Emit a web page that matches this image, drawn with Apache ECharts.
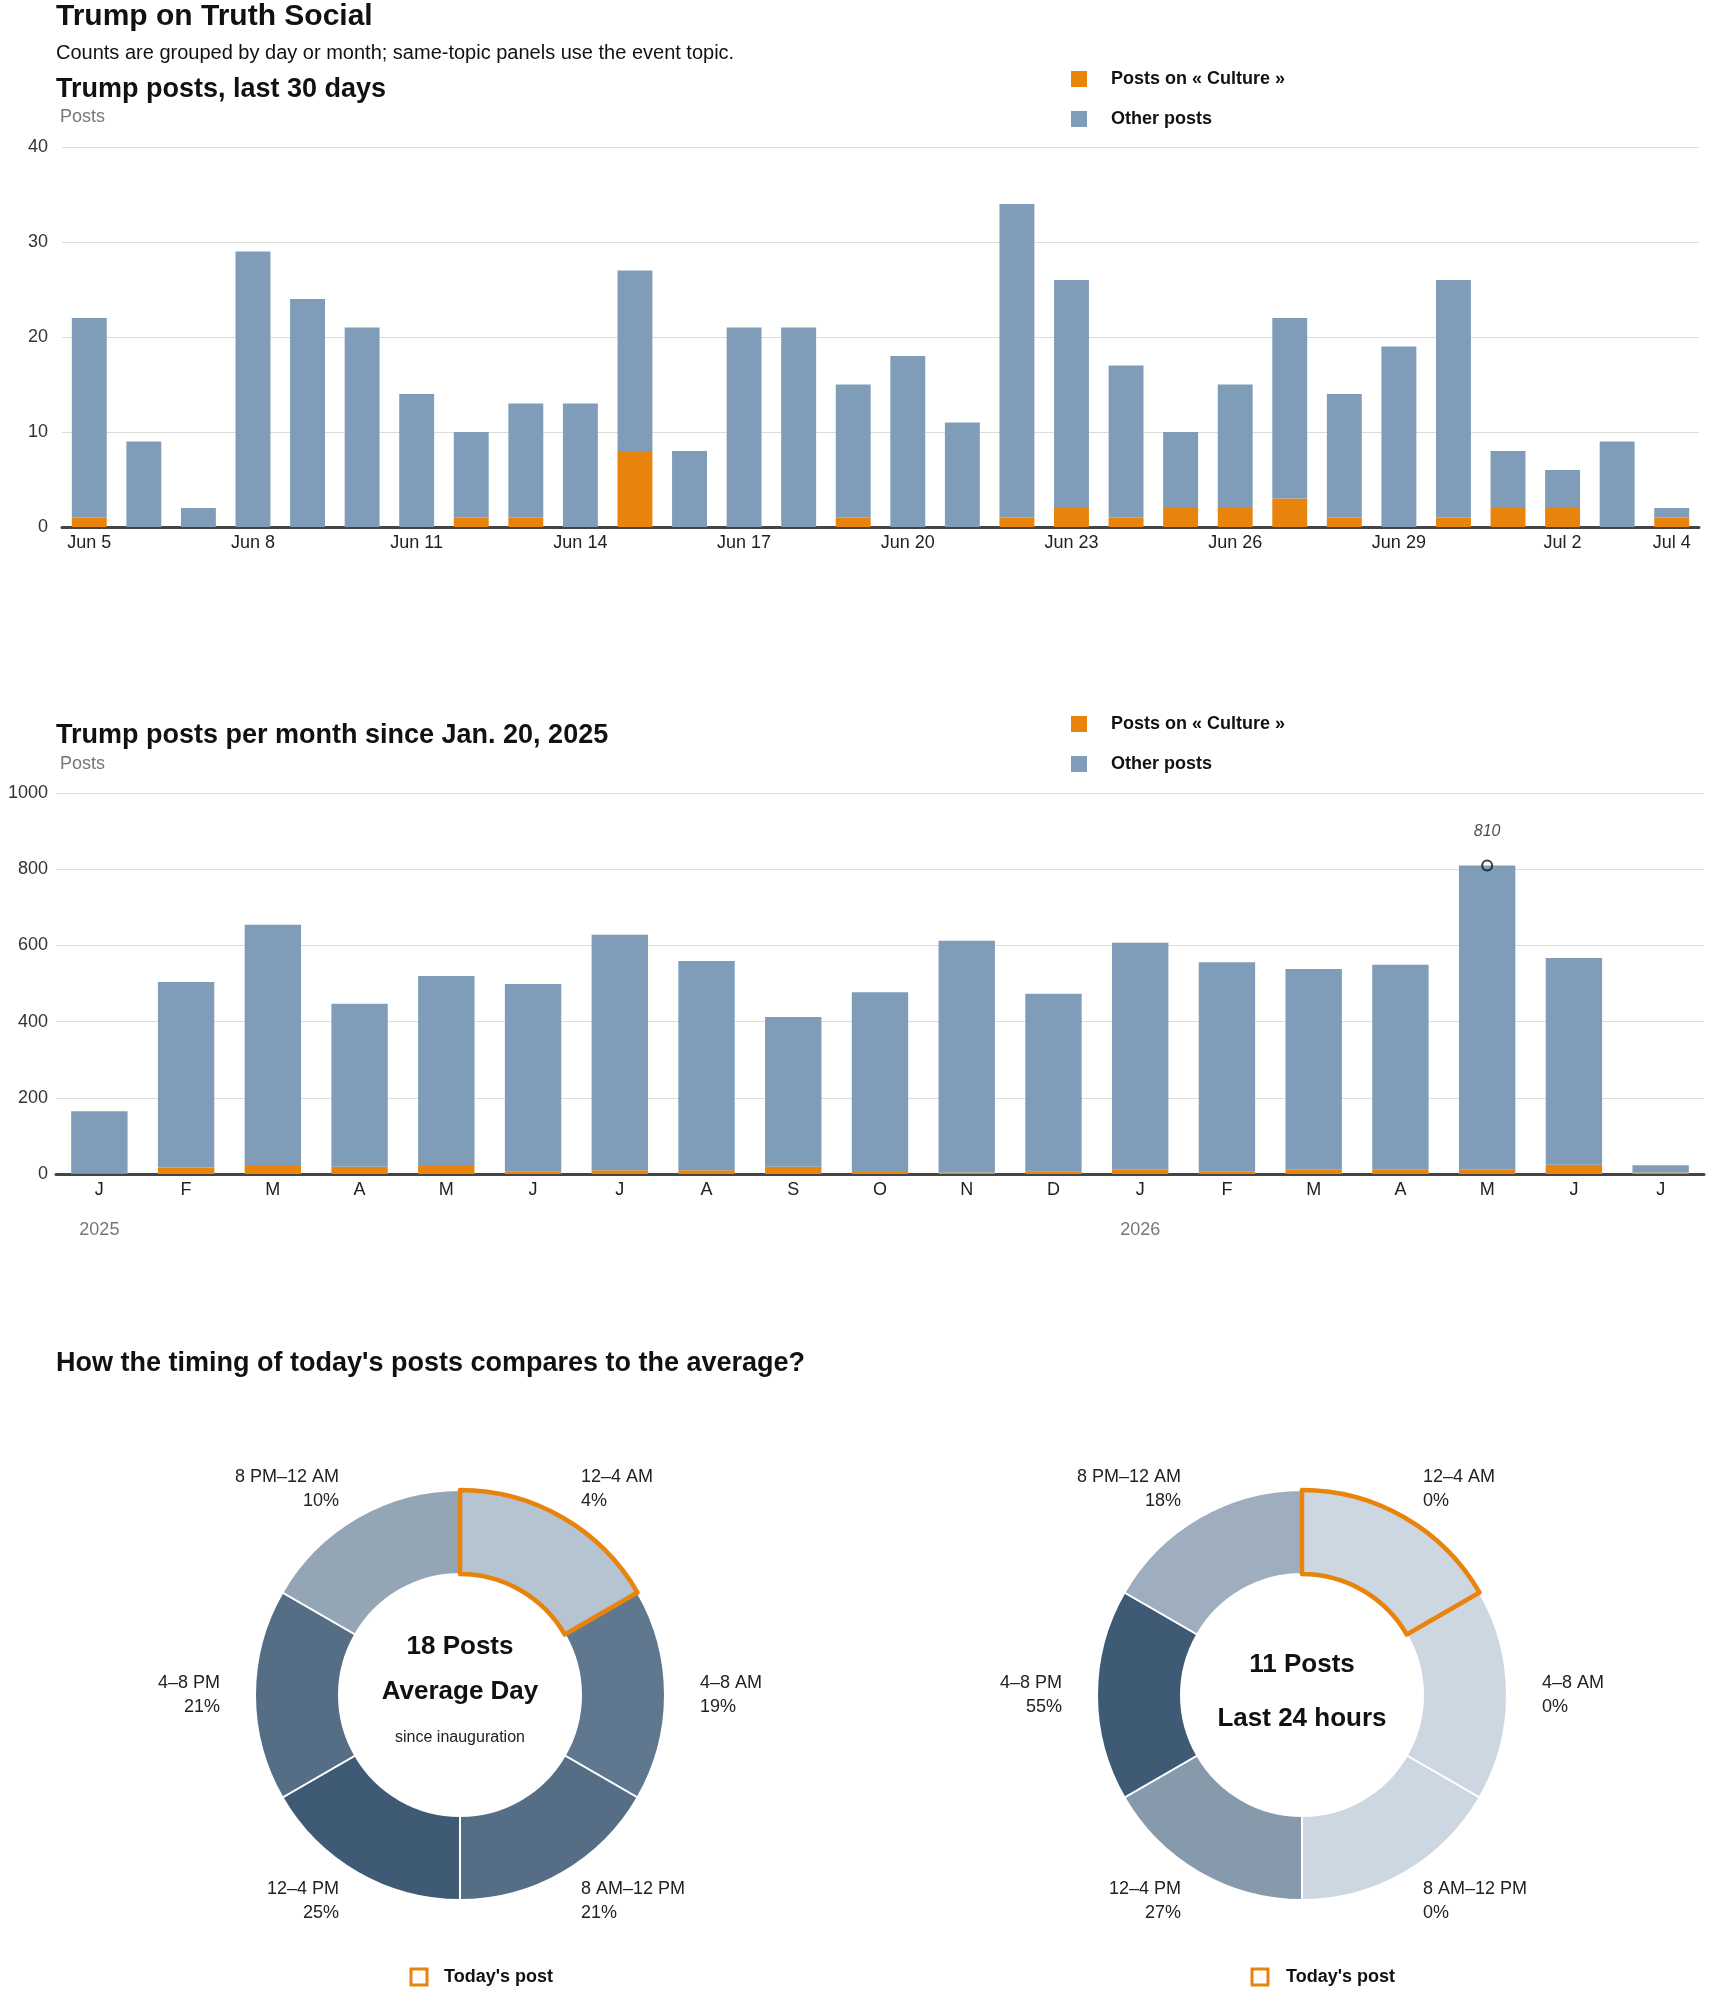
<!DOCTYPE html>
<html>
<head>
<meta charset="utf-8">
<script src="https://cdn.jsdelivr.net/npm/echarts@6/dist/echarts.min.js"></script>
<style>
  html, body { margin: 0; padding: 0; background: #fff; }
  #main { width: 1710px; height: 1993px; }
</style>
</head>
<body>
<div id="main"></div>
<script>
// --- data ---
var dayLabels = ['Jun 5','Jun 6','Jun 7','Jun 8','Jun 9','Jun 10','Jun 11','Jun 12','Jun 13','Jun 14',
  'Jun 15','Jun 16','Jun 17','Jun 18','Jun 19','Jun 20','Jun 21','Jun 22','Jun 23','Jun 24',
  'Jun 25','Jun 26','Jun 27','Jun 28','Jun 29','Jun 30','Jul 1','Jul 2','Jul 3','Jul 4'];
var dayCulture = [1,0,0,0,0,0,0,1,1,0, 8,0,0,0,1,0,0,1,2,1, 2,2,3,1,0,1,2,2,0,1];
var dayOther   = [21,9,2,29,24,21,14,9,12,13, 19,8,21,21,14,18,11,33,24,16, 8,13,19,13,19,25,6,4,9,1];

var monthKeys = ['2025-01','2025-02','2025-03','2025-04','2025-05','2025-06','2025-07','2025-08','2025-09',
  '2025-10','2025-11','2025-12','2026-01','2026-02','2026-03','2026-04','2026-05','2026-06','2026-07'];
var monthCulture = [2,17,21,19,21,7,10,10,19,5,4,7,11,7,11,11,11,24,4];
var monthOther   = [163,487,633,428,499,492,618,549,393,472,608,466,596,549,527,538,799,543,19];
var peakMonth = '2026-05';
var peakValue = 810;

var slots = ['12–4 AM','4–8 AM','8 AM–12 PM','12–4 PM','4–8 PM','8 PM–12 AM'];
var avgShare = [4,19,21,25,21,10];
var todayShare = [0,0,0,27,55,18];
var avgPosts = 18;
var todayPosts = 11;
var todaySlot = '12–4 AM';

// --- style ---
var FONT = "'Liberation Sans', Arial, sans-serif";
var ORANGE = '#E8830C';
var BLUE = '#7F9DB9';
var INK = '#111';
var MONTH_INITIAL = ['J','F','M','A','M','J','J','A','S','O','N','D'];

var chart = echarts.init(document.getElementById('main'));

// title components carry a 5px padding, so positions are offset by it
function headTitle(text, top, size) {
  return { text: text, left: 51, top: top, padding: 5,
    textStyle: { fontFamily: FONT, fontSize: size, fontWeight: 'bold', color: INK } };
}
function smallTitle(text, left, top, size, color) {
  return { text: text, left: left, top: top, padding: 5,
    textStyle: { fontFamily: FONT, fontSize: size, fontWeight: 'normal', color: color } };
}

function legendAt(top) {
  return {
    orient: 'vertical', left: 1066, top: top, itemWidth: 16, itemHeight: 16, itemGap: 20,
    icon: 'rect', selectedMode: false,
    data: ['Posts on « Culture »', 'Other posts'],
    textStyle: { fontFamily: FONT, fontSize: 18, fontWeight: 'bold', color: INK, lineHeight: 20,
      padding: [0, 0, 0, 19] }
  };
}

function valueAxis(gridIndex, max, interval, margin) {
  return {
    type: 'value', gridIndex: gridIndex, min: 0, max: max, interval: interval,
    axisLine: { show: false }, axisTick: { show: false },
    axisLabel: { fontFamily: FONT, fontSize: 18, color: '#333', margin: margin,
      formatter: function (v) { return String(v); } },
    splitLine: { lineStyle: { color: '#dcdcdc', width: 1 } }
  };
}

var pieDatasets = [
  { dimensions: ['slot', 'slice', 'pct'], source: slots.map(function (s, i) { return [s, 1, avgShare[i]]; }) },
  { dimensions: ['slot', 'slice', 'pct'], source: slots.map(function (s, i) { return [s, 1, todayShare[i]]; }) }
];

function donut(datasetIndex, cx) {
  return {
    type: 'pie', datasetIndex: datasetIndex, center: [cx, 1695], radius: [121, 205],
    startAngle: 90, clockwise: true, avoidLabelOverlap: false, silent: true,
    encode: { itemName: 'slot', value: 'slice' },
    itemStyle: { borderColor: '#fff', borderWidth: 2 },
    label: {
      show: true, position: 'outside', distanceToLabelLine: 2,
      fontFamily: FONT, fontSize: 18, color: '#222', lineHeight: 24,
      formatter: function (p) { return p.value[0] + '\n' + p.value[2] + '%'; }
    },
    labelLine: { show: false, length: 33, length2: 0 },
    emphasis: { disabled: true }
  };
}

function todayOutline(cx) {
  return {
    type: 'pie', center: [cx, 1695], radius: [121, 205], startAngle: 90, clockwise: true,
    silent: true, z: 5, label: { show: false }, labelLine: { show: false }, emphasis: { disabled: true },
    data: slots.map(function (s) {
      return {
        name: s, value: 1,
        itemStyle: s === todaySlot
          ? { color: 'rgba(0,0,0,0)', borderColor: ORANGE, borderWidth: 4.5 }
          : { color: 'rgba(0,0,0,0)', borderWidth: 0 }
      };
    })
  };
}

var option = {
  backgroundColor: '#fff',
  animation: false,
  title: [
    headTitle('Trump on Truth Social', -3, 30),
    smallTitle('Counts are grouped by day or month; same-topic panels use the event topic.', 51, 38, 20, INK),
    headTitle('Trump posts, last 30 days', 71, 27),
    smallTitle('Posts', 55, 103, 18, '#777'),
    headTitle('Trump posts per month since Jan. 20, 2025', 717, 27),
    smallTitle('Posts', 55, 750, 18, '#777'),
    headTitle("How the timing of today's posts compares to the average?", 1345, 27)
  ],
  legend: [legendAt(64), legendAt(709)],
  dataset: pieDatasets,
  visualMap: [
    { type: 'continuous', show: false, seriesIndex: 5, dimension: 2, min: 0, max: Math.max.apply(null, avgShare),
      inRange: { color: ['#cdd7e1', '#3e5a75'] } },
    { type: 'continuous', show: false, seriesIndex: 6, dimension: 2, min: 0, max: Math.max.apply(null, todayShare),
      inRange: { color: ['#cdd7e1', '#3e5a75'] } }
  ],
  grid: [
    { left: 62, top: 147, width: 1637, height: 380 },
    { left: 56, top: 793, width: 1648, height: 381 }
  ],
  xAxis: [
    {
      type: 'category', gridIndex: 0, data: dayLabels,
      axisLine: { lineStyle: { color: '#444', width: 3 } }, axisTick: { show: false },
      axisLabel: {
        fontFamily: FONT, fontSize: 18, color: '#222', margin: 7,
        interval: function (i) { return i % 3 === 0 || i === dayLabels.length - 1; }
      }
    },
    {
      type: 'category', gridIndex: 1, data: monthKeys,
      axisLine: { lineStyle: { color: '#444', width: 3 } }, axisTick: { show: false },
      axisLabel: {
        interval: 0, margin: 5, fontFamily: FONT, color: '#222',
        formatter: function (v) {
          var parts = v.split('-');
          var m = MONTH_INITIAL[parseInt(parts[1], 10) - 1];
          return parts[1] === '01' ? '{m|' + m + '}\n{y|' + parts[0] + '}' : '{m|' + m + '}';
        },
        rich: {
          m: { fontFamily: FONT, fontSize: 18, color: '#222', lineHeight: 22 },
          y: { fontFamily: FONT, fontSize: 18, color: '#777', lineHeight: 58 }
        }
      }
    }
  ],
  yAxis: [valueAxis(0, 40, 10, 14), valueAxis(1, 1000, 200, 8)],
  series: [
    { name: 'Posts on « Culture »', type: 'bar', stack: 'd', xAxisIndex: 0, yAxisIndex: 0,
      barWidth: '64%', itemStyle: { color: ORANGE }, data: dayCulture },
    { name: 'Other posts', type: 'bar', stack: 'd', xAxisIndex: 0, yAxisIndex: 0,
      barWidth: '64%', itemStyle: { color: BLUE }, data: dayOther },
    { name: 'Posts on « Culture »', type: 'bar', stack: 'm', xAxisIndex: 1, yAxisIndex: 1,
      barWidth: '65%', itemStyle: { color: ORANGE }, data: monthCulture },
    { name: 'Other posts', type: 'bar', stack: 'm', xAxisIndex: 1, yAxisIndex: 1,
      barWidth: '65%', itemStyle: { color: BLUE }, data: monthOther },
    { name: 'peak', type: 'scatter', xAxisIndex: 1, yAxisIndex: 1, z: 10, silent: true,
      symbol: 'circle', symbolSize: 10,
      itemStyle: { color: 'rgba(0,0,0,0)', borderColor: '#111', borderWidth: 2 },
      label: { show: true, position: 'top', distance: 20, fontFamily: FONT, fontSize: 16,
        fontStyle: 'italic', color: '#222', formatter: String(peakValue) },
      data: [[peakMonth, peakValue]] },
    donut(0, 460),
    donut(1, 1302),
    todayOutline(460),
    todayOutline(1302)
  ],
  graphic: [
    { type: 'text', x: 460, y: 1647, style: { text: avgPosts + ' Posts', font: 'bold 26px ' + FONT, fill: INK, textAlign: 'center', textVerticalAlign: 'middle' } },
    { type: 'text', x: 460, y: 1692, style: { text: 'Average Day', font: 'bold 26px ' + FONT, fill: INK, textAlign: 'center', textVerticalAlign: 'middle' } },
    { type: 'text', x: 460, y: 1738, style: { text: 'since inauguration', font: '16px ' + FONT, fill: '#222', textAlign: 'center', textVerticalAlign: 'middle' } },
    { type: 'text', x: 1302, y: 1665, style: { text: todayPosts + ' Posts', font: 'bold 26px ' + FONT, fill: INK, textAlign: 'center', textVerticalAlign: 'middle' } },
    { type: 'text', x: 1302, y: 1719, style: { text: 'Last 24 hours', font: 'bold 26px ' + FONT, fill: INK, textAlign: 'center', textVerticalAlign: 'middle' } },
    { type: 'rect', shape: { x: 411, y: 1969, width: 16, height: 16 }, style: { fill: '#fff', stroke: ORANGE, lineWidth: 3 } },
    { type: 'text', x: 444, y: 1977, style: { text: "Today's post", font: 'bold 18px ' + FONT, fill: INK, textVerticalAlign: 'middle' } },
    { type: 'rect', shape: { x: 1252, y: 1969, width: 16, height: 16 }, style: { fill: '#fff', stroke: ORANGE, lineWidth: 3 } },
    { type: 'text', x: 1286, y: 1977, style: { text: "Today's post", font: 'bold 18px ' + FONT, fill: INK, textVerticalAlign: 'middle' } }
  ]
};

chart.setOption(option);
</script>
</body>
</html>
